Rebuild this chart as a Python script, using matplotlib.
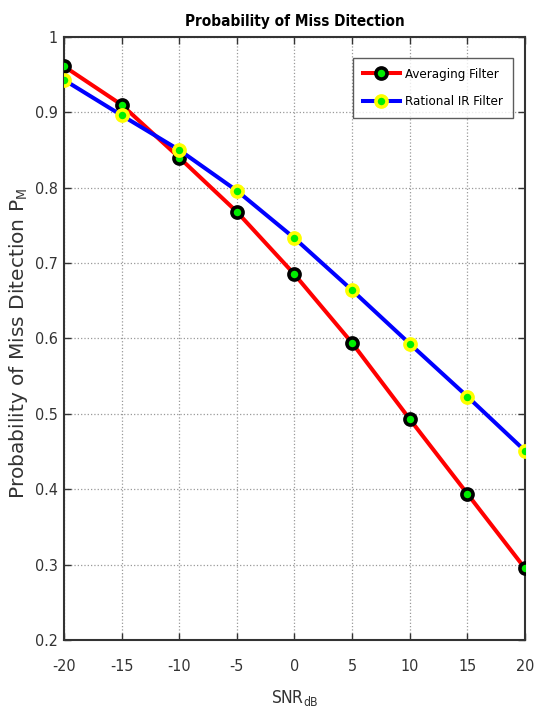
import matplotlib
matplotlib.use("Agg")
import matplotlib.pyplot as plt

# SNR in dB and probability of miss detection
snr_db = [-20, -15, -10, -5, 0, 5, 10, 15, 20]
pm_averaging = [0.961, 0.910, 0.840, 0.768, 0.685, 0.594, 0.493, 0.394, 0.295]
pm_rational = [0.943, 0.896, 0.850, 0.796, 0.733, 0.664, 0.593, 0.523, 0.451]

x_ticks = [-20, -15, -10, -5, 0, 5, 10, 15, 20]
y_ticks = [0.2, 0.3, 0.4, 0.5, 0.6, 0.7, 0.8, 0.9, 1.0]
y_tick_labels = ["0.2", "0.3", "0.4", "0.5", "0.6", "0.7", "0.8", "0.9", "1"]

# narrow look of the original -> condensed DejaVu
plt.rcParams["font.family"] = ["DejaVu Sans"]
plt.rcParams["font.stretch"] = "condensed"
plt.rcParams["mathtext.fontset"] = "custom"
plt.rcParams["mathtext.rm"] = "DejaVu Sans"

fig = plt.figure(figsize=(5.35, 7.24), dpi=100)
ax = fig.add_axes([0.1196, 0.116, 0.8617, 0.833])

ax.plot(snr_db, pm_averaging, color="red", linewidth=2.9, marker="o",
        markersize=8, markerfacecolor="#00ee00", markeredgecolor="black",
        markeredgewidth=2.6, label="Averaging Filter", zorder=3)
ax.plot(snr_db, pm_rational, color="blue", linewidth=2.9, marker="o",
        markersize=8, markerfacecolor="#00ee00", markeredgecolor="yellow",
        markeredgewidth=2.6, label="Rational IR Filter", zorder=3)

ax.set_xlim(-20, 20)
ax.set_ylim(0.2, 1.0)
ax.set_xticks(x_ticks)
ax.set_xticklabels([str(v) for v in x_ticks])
ax.set_yticks(y_ticks)
ax.set_yticklabels(y_tick_labels)
ax.tick_params(direction="in", top=True, right=True, length=5, width=1,
               labelsize=11.5, colors="#333333")
ax.tick_params(axis="x", pad=14)
ax.tick_params(axis="y", pad=4.5)
for sp in ax.spines.values():
    sp.set_linewidth(1.5)
    sp.set_color("#333333")
ax.grid(True, linestyle=":", color="#999999", linewidth=0.9)

ax.set_title("Probability of Miss Ditection", fontsize=11, fontweight="bold",
             pad=8)
ax.set_xlabel("SNR$_{\\rm dB}$", fontsize=12.5, color="#333333", labelpad=10)
ax.set_ylabel("Probability of Miss Ditection P$_{\\rm M}$", fontsize=14.5,
              stretch="normal", color="#333333")
ax.yaxis.set_label_coords(-0.074, 0.4925)

leg = ax.legend(loc="upper right", bbox_to_anchor=(0.974, 0.965),
                borderaxespad=0, fontsize=9.5, frameon=True, fancybox=False,
                edgecolor="#333333", handlelength=2.8, handletextpad=0.4,
                borderpad=0.75, labelspacing=1.1)
leg.get_frame().set_linewidth(1.0)

fig.savefig("out.png", dpi=100)
